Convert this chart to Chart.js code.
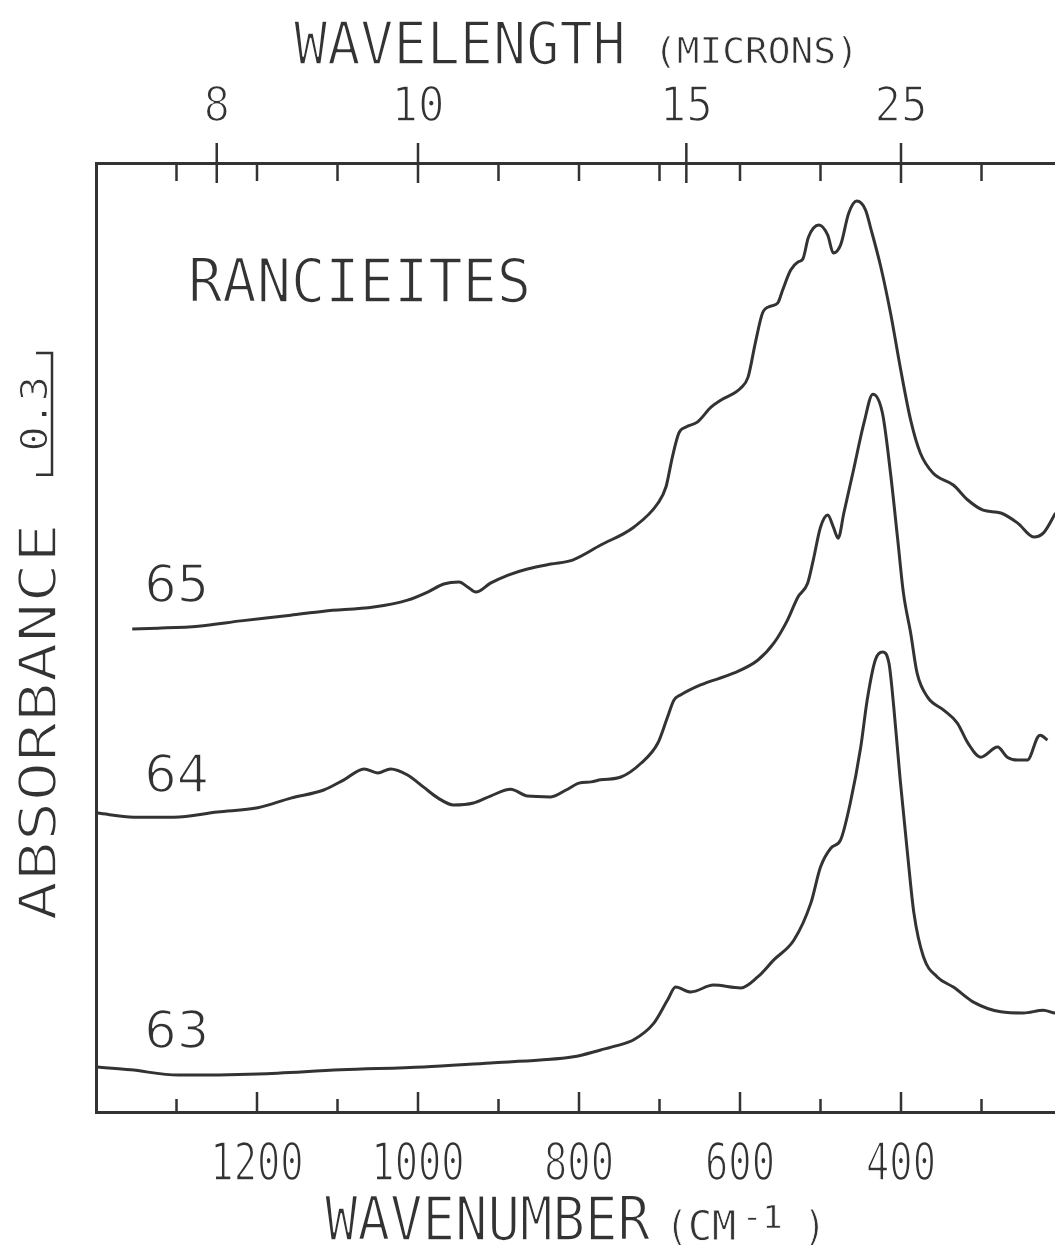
<!DOCTYPE html>
<html>
<head>
<meta charset="utf-8">
<script src="https://cdn.jsdelivr.net/npm/chart.js@4.4.1/dist/chart.umd.min.js"></script>
<style>
  html, body { margin: 0; padding: 0; background: #fff; overflow: hidden; }
  #chart { display: block; }
</style>
</head>
<body>
<canvas id="chart" width="1062" height="1249"></canvas>
<script>
// Spectra: wavenumber (cm-1) and offset absorbance
const wn65 = [1355,1323,1273,1220,1158,1117,1055,1013,988,968,949,938,928,910,888,864,835,808,773,732,702,692,684,676,667,653,636,624,599,590,581,572,562,553,547,537,528,522,515,502,491,484,475,465,455,444,438,425,413,401,388,376,360,335,317,298,276,255,235,223,208];
const abs65 = [1.191,1.193,1.198,1.211,1.225,1.235,1.245,1.262,1.282,1.302,1.307,1.294,1.282,1.304,1.324,1.339,1.351,1.361,1.398,1.442,1.501,1.541,1.615,1.674,1.689,1.701,1.738,1.755,1.785,1.812,1.896,1.970,1.987,1.995,2.027,2.076,2.096,2.103,2.157,2.187,2.162,2.118,2.138,2.216,2.246,2.224,2.182,2.083,1.970,1.837,1.706,1.625,1.575,1.546,1.509,1.484,1.477,1.452,1.418,1.428,1.477];

const wn64 = [1398,1353,1303,1249,1199,1158,1117,1092,1067,1050,1034,1013,993,975,956,931,910,885,864,835,816,800,785,773,748,723,702,690,682,674,649,608,578,558,541,528,516,509,500,491,484,478,471,459,446,435,423,413,404,397,388,380,367,347,330,317,301,280,268,255,243,230,227,218];
const abs64 = [0.737,0.727,0.727,0.740,0.750,0.774,0.794,0.819,0.846,0.836,0.846,0.831,0.801,0.774,0.757,0.762,0.779,0.796,0.779,0.777,0.794,0.811,0.814,0.819,0.826,0.860,0.910,0.974,1.016,1.028,1.053,1.082,1.114,1.156,1.213,1.270,1.304,1.361,1.442,1.472,1.442,1.415,1.477,1.583,1.699,1.770,1.723,1.575,1.410,1.280,1.181,1.082,1.023,0.991,0.959,0.910,0.875,0.900,0.875,0.868,0.868,0.925,0.929,0.917];

const wn63 = [1398,1357,1298,1199,1096,993,910,848,807,773,754,732,707,690,680,661,633,599,578,558,533,512,500,487,475,463,450,442,432,423,415,409,401,392,384,372,355,335,310,276,248,223,208,200];
const abs63 = [0.111,0.104,0.091,0.094,0.104,0.111,0.121,0.128,0.136,0.153,0.163,0.178,0.219,0.276,0.308,0.296,0.313,0.306,0.333,0.375,0.424,0.515,0.604,0.651,0.671,0.762,0.900,1.016,1.114,1.134,1.107,0.999,0.819,0.639,0.491,0.382,0.333,0.308,0.271,0.247,0.244,0.251,0.244,0.244];

// axis ticks
const bottomMajor = [1200, 1000, 800, 600, 400];
const bottomMinor = [1300, 1100, 900, 700, 500, 300];
const micronMajor = [8, 10, 15, 25];
const topMinor = [1300, 1200, 1100, 900, 800, 700, 600, 500, 300];

// sample labels: name, wavenumber of left edge, absorbance of baseline
const sampleNames = ['65', '64', '63'];
const sampleLabelWn = [1340, 1340, 1340];
const sampleLabelAbs = [1.257, 0.789, 0.158];

const scaleBarAbs = 0.3;
const ink = '#333333';

function toPoints(xs, ys) {
  return xs.map((x, i) => ({ x: x, y: ys[i] }));
}

// plotter style text, squeezed or stretched horizontally, strokes thinned
function plotText(ctx, str, x, y, size, sx, align, rot, family, thin) {
  ctx.save();
  ctx.font = size + 'px ' + (family || '"DejaVu Sans Mono"');
  ctx.fillStyle = ink;
  ctx.textAlign = align || 'left';
  ctx.textBaseline = 'alphabetic';
  ctx.translate(x, y);
  if (rot) ctx.rotate(rot);
  ctx.scale(sx, 1);
  ctx.fillText(str, 0, 0);
  ctx.strokeStyle = '#ffffff';
  ctx.lineWidth = thin === undefined ? 1.7 : thin;
  ctx.lineJoin = 'round';
  if (ctx.lineWidth > 0) ctx.strokeText(str, 0, 0);
  ctx.restore();
}

const decorations = {
  id: 'decorations',
  afterDraw(chart) {
    const ctx = chart.ctx;
    const xs = chart.scales.x;
    const ys = chart.scales.y;
    const area = chart.chartArea;

    ctx.save();
    ctx.strokeStyle = ink;
    ctx.lineWidth = 2.5;
    ctx.beginPath();
    // bottom ticks, pointing in
    bottomMajor.forEach(v => {
      const px = xs.getPixelForValue(v);
      ctx.moveTo(px, area.bottom); ctx.lineTo(px, area.bottom - 20);
    });
    bottomMinor.forEach(v => {
      const px = xs.getPixelForValue(v);
      ctx.moveTo(px, area.bottom); ctx.lineTo(px, area.bottom - 13);
    });
    // top ticks: microns cross the frame, wavenumber minors point in
    micronMajor.forEach(m => {
      const px = xs.getPixelForValue(10000 / m);
      ctx.moveTo(px, area.top - 20); ctx.lineTo(px, area.top + 20);
    });
    topMinor.forEach(v => {
      const px = xs.getPixelForValue(v);
      ctx.moveTo(px, area.top); ctx.lineTo(px, area.top + 18);
    });
    // absorbance scale bar
    const y0 = 353;
    const y1 = y0 + (ys.getPixelForValue(0) - ys.getPixelForValue(scaleBarAbs));
    ctx.moveTo(36, y0); ctx.lineTo(52, y0); ctx.lineTo(52, y1); ctx.lineTo(36, y1);
    ctx.stroke();
    ctx.restore();

    // tick labels
    bottomMajor.forEach(v => {
      plotText(ctx, String(v), xs.getPixelForValue(v), 1180, 51, 0.76, 'center');
    });
    micronMajor.forEach(m => {
      plotText(ctx, String(m), xs.getPixelForValue(10000 / m), 121, 48, 0.92, 'center');
    });

    // axis titles
    plotText(ctx, 'WAVELENGTH', 294, 64, 58, 0.95, 'left');
    plotText(ctx, '(MICRONS)', 654, 63, 35, 1.08, 'left', 0, undefined, 0.7);
    plotText(ctx, 'WAVENUMBER', 325, 1240, 60, 0.9, 'left');
    plotText(ctx, '(', 666, 1240, 40, 0.9, 'left', 0, undefined, 0.8);
    plotText(ctx, 'CM', 688, 1240, 40, 1.0, 'left', 0, undefined, 0.8);
    plotText(ctx, '-1', 742, 1228, 32, 1.05, 'left', 0, undefined, 0.6);
    plotText(ctx, ')', 804, 1240, 40, 0.9, 'left', 0, undefined, 0.8);
    plotText(ctx, 'ABSORBANCE', 56, 722, 52, 1.27, 'center', -Math.PI / 2);
    plotText(ctx, '0.3', 47, (y0 + y1) / 2, 38, 1.1, 'center', -Math.PI / 2, undefined, 1.0);

    // chart name
    plotText(ctx, 'RANCIEITES', 188, 302, 60, 0.95, 'left');

    // sample numbers
    sampleNames.forEach((name, i) => {
      plotText(ctx, name, xs.getPixelForValue(sampleLabelWn[i]), ys.getPixelForValue(sampleLabelAbs[i]),
        51, 1.0, 'left', 0, '"DejaVu Sans"', 1.6);
    });
  }
};

const lineStyle = {
  borderColor: ink,
  borderWidth: 3,
  pointRadius: 0,
  fill: false,
  cubicInterpolationMode: 'monotone'
};

new Chart(document.getElementById('chart').getContext('2d'), {
  type: 'line',
  data: {
    datasets: [
      Object.assign({ label: '65', data: toPoints(wn65, abs65) }, lineStyle),
      Object.assign({ label: '64', data: toPoints(wn64, abs64) }, lineStyle),
      Object.assign({ label: '63', data: toPoints(wn63, abs63) }, lineStyle)
    ]
  },
  options: {
    responsive: false,
    animation: false,
    devicePixelRatio: 1,
    layout: { padding: 0 },
    plugins: {
      legend: { display: false },
      tooltip: { enabled: false }
    },
    scales: {
      x: {
        type: 'linear',
        position: 'bottom',
        reverse: true,
        min: 200,
        max: 1400,
        ticks: { display: false },
        grid: { display: false },
        border: { display: true, color: ink, width: 3 },
        afterFit(s) { s.height = 137; }
      },
      x2: {
        type: 'linear',
        position: 'top',
        reverse: true,
        min: 200,
        max: 1400,
        ticks: { display: false },
        grid: { display: false },
        border: { display: true, color: ink, width: 3 },
        afterFit(s) { s.height = 163; }
      },
      y: {
        type: 'linear',
        min: 0,
        max: 2.34,
        ticks: { display: false },
        grid: { display: false },
        border: { display: true, color: ink, width: 3 },
        afterFit(s) { s.width = 96; }
      }
    }
  },
  plugins: [decorations]
});
</script>
</body>
</html>
